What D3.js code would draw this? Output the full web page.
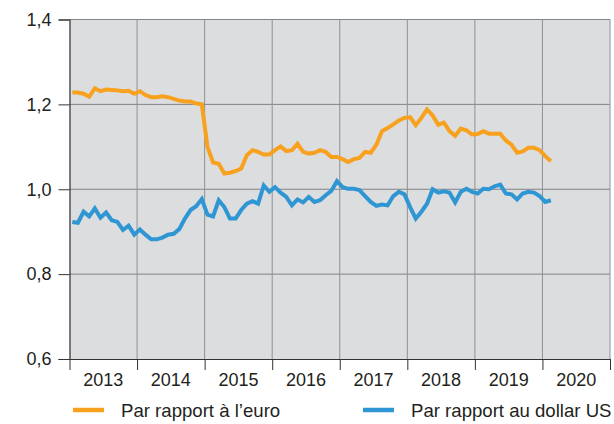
<!DOCTYPE html>
<html><head><meta charset="utf-8">
<script src="https://cdn.jsdelivr.net/npm/d3@7"></script>
<style>body{margin:0;background:#fff;}svg{display:block;font-family:"Liberation Sans",Arial,sans-serif;}</style>
</head><body><svg id="c" width="614" height="424"></svg>
<script>
const years = ["2013","2014","2015","2016","2017","2018","2019","2020"];
const yTicks = [0.6, 0.8, 1.0, 1.2, 1.4];
const seriesNames = ["Par rapport à l\u2019euro", "Par rapport au dollar US"];
// monthly values, Jan 2013 – Feb 2020
const euro = [1.228,1.228,1.225,1.218,1.238,1.231,1.235,1.234,1.233,1.231,1.232,1.225,
1.231,1.222,1.217,1.217,1.219,1.217,1.213,1.209,1.207,1.207,1.202,1.200,
1.100,1.063,1.060,1.037,1.039,1.043,1.049,1.080,1.092,1.088,1.082,1.082,
1.092,1.101,1.090,1.092,1.107,1.088,1.084,1.086,1.092,1.088,1.076,1.076,
1.071,1.064,1.071,1.074,1.088,1.086,1.105,1.137,1.144,1.153,1.162,1.168,
1.170,1.151,1.168,1.188,1.174,1.152,1.157,1.137,1.126,1.143,1.139,1.129,
1.130,1.137,1.131,1.131,1.131,1.115,1.105,1.086,1.089,1.098,1.098,1.092,
1.078,1.066];
const dollar = [0.923,0.921,0.947,0.936,0.955,0.933,0.945,0.927,0.923,0.904,0.914,0.893,
0.905,0.893,0.882,0.882,0.886,0.893,0.895,0.906,0.931,0.951,0.960,0.977,
0.940,0.936,0.974,0.958,0.931,0.931,0.951,0.966,0.972,0.966,1.009,0.994,
1.005,0.992,0.982,0.962,0.976,0.969,0.982,0.970,0.974,0.986,0.996,1.019,
1.005,1.001,1.001,0.998,0.984,0.970,0.961,0.964,0.962,0.984,0.994,0.988,
0.958,0.931,0.947,0.966,1.000,0.992,0.995,0.992,0.969,0.994,1.001,0.994,
0.990,1.001,1.000,1.007,1.011,0.990,0.988,0.976,0.990,0.994,0.992,0.984,
0.970,0.974];
const colors = ["#F7A11F", "#2F96D4"];

const svg = d3.select("#c");
const L = 69.5, R = 610, T = 19.5, B = 359;
const x = d3.scaleLinear().domain([0, 96]).range([L, R]);
const y = d3.scaleLinear().domain([0.6, 1.4]).range([B, T]);

svg.append("rect").attr("x", L).attr("y", T).attr("width", R - L).attr("height", B - T).attr("fill", "#DCDDDF");

// horizontal grid
svg.append("g").selectAll("line").data(yTicks.slice(1)).join("line")
  .attr("x1", L).attr("x2", R).attr("y1", d => y(d)).attr("y2", d => y(d))
  .attr("stroke", "#808285").attr("stroke-width", 1);
// vertical grid
svg.append("g").selectAll("line").data(d3.range(1, 9)).join("line")
  .attr("x1", d => x(d * 12)).attr("x2", d => x(d * 12)).attr("y1", T).attr("y2", B)
  .attr("stroke", "#8E9093").attr("stroke-width", 1);

// y axis
const fmt = d => d3.format(".1f")(d).replace(".", ",");
const yAxis = svg.append("g").attr("transform", `translate(${L},0)`)
  .call(d3.axisLeft(y).tickValues(yTicks).tickFormat(fmt).tickSize(11).tickPadding(7));
yAxis.select(".domain").attr("stroke", "#333").attr("stroke-width", 1.2);
yAxis.selectAll(".tick line").attr("stroke", "#333");
yAxis.selectAll("text").attr("font-size", 18).attr("fill", "#231F20").attr("font-family", "Liberation Sans, Arial, sans-serif");

// x axis
const xAxis = svg.append("g").attr("transform", `translate(0,${B})`)
  .call(d3.axisBottom(x).tickValues(d3.range(0, 97, 12)).tickFormat("").tickSize(11).tickSizeOuter(0));
xAxis.select(".domain").attr("stroke", "#333").attr("stroke-width", 1.2);
xAxis.selectAll(".tick line").attr("stroke", "#333");
svg.append("g").selectAll("text").data(years).join("text")
  .attr("x", (d, i) => x(i * 12 + 6)).attr("y", 385.5)
  .attr("text-anchor", "middle").attr("font-size", 18).attr("fill", "#231F20").text(d => d);

// lines
const line = d3.line().x((d, i) => x(i + 0.5)).y(d => y(d)).curve(d3.curveLinear);
[euro, dollar].forEach((s, k) => {
  svg.append("path").datum(s).attr("d", line).attr("fill", "none")
    .attr("stroke", colors[k]).attr("stroke-width", 4).attr("stroke-linejoin", "miter").attr("stroke-miterlimit", 3);
});

// legend
const legX = [73, 363], legText = [121, 411];
seriesNames.forEach((n, k) => {
  svg.append("line").attr("x1", legX[k]).attr("x2", legX[k] + 31).attr("y1", 410).attr("y2", 410)
    .attr("stroke", colors[k]).attr("stroke-width", 4.5);
  svg.append("text").attr("x", legText[k]).attr("y", 416.5).attr("font-size", 18.6)
    .attr("fill", "#231F20").text(n);
});
</script></body></html>
